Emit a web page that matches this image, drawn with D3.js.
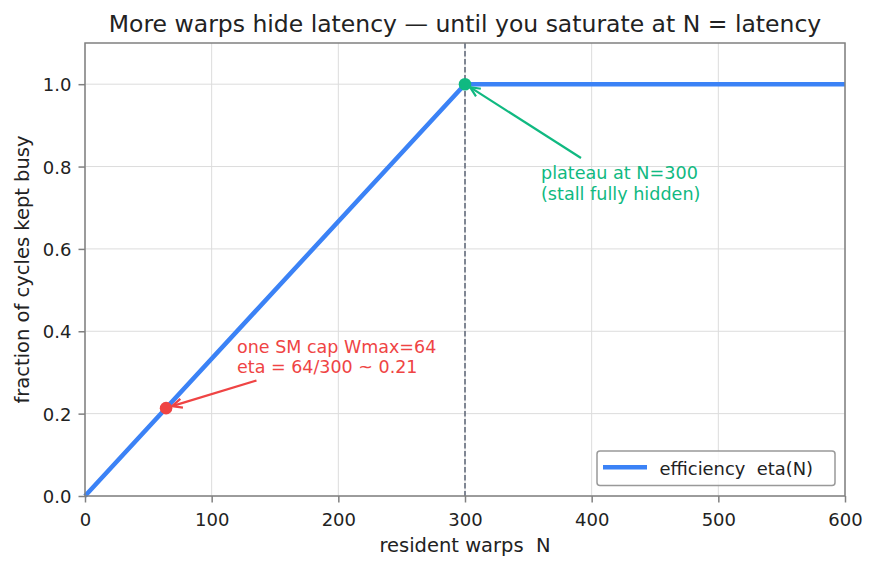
<!DOCTYPE html>
<html><head><meta charset="utf-8">
<script src="https://cdn.jsdelivr.net/npm/d3@7/dist/d3.min.js"></script>
<style>body{margin:0;background:#fff}svg{display:block}text{white-space:pre}</style>
</head><body><svg id="c" width="877" height="569"></svg>
<script>
const warpsN = [0, 300, 600];
const eta = [0, 1, 1];
const xTicks = [0, 100, 200, 300, 400, 500, 600];
const yTicks = [0.0, 0.2, 0.4, 0.6, 0.8, 1.0];
const capPoint = {n: 64, eta: 64/300};
const satPoint = {n: 300, eta: 1.0};
const title = "More warps hide latency — until you saturate at N = latency";
const FF = "DejaVu Sans";

const svg = d3.select("#c");
const m = {l: 85, r: 845, t: 43, b: 496};
const x = d3.scaleLinear().domain([0, 600]).range([m.l, m.r]);
const y = d3.scaleLinear().domain([0, 1.1]).range([m.b, m.t]);

// grid
svg.append("g").selectAll("line").data(xTicks).join("line")
  .attr("x1", d => x(d)).attr("x2", d => x(d)).attr("y1", m.t).attr("y2", m.b)
  .attr("stroke", "#dcdcdc").attr("stroke-width", 1);
svg.append("g").selectAll("line").data(yTicks).join("line")
  .attr("y1", d => y(d)).attr("y2", d => y(d)).attr("x1", m.l).attr("x2", m.r)
  .attr("stroke", "#dcdcdc").attr("stroke-width", 1);

// dashed vertical
svg.append("line").attr("x1", x(300)).attr("x2", x(300)).attr("y1", m.t).attr("y2", m.b)
  .attr("stroke", "#5b6475").attr("stroke-width", 1.5).attr("stroke-dasharray", "5.5,2.5");

// line
svg.append("path").datum(warpsN.map((n, i) => [n, eta[i]]))
  .attr("d", d3.line().x(d => x(d[0])).y(d => y(d[1])))
  .attr("fill", "none").attr("stroke", "#3b82f6").attr("stroke-width", 4.5);

// points
svg.append("circle").attr("cx", x(capPoint.n)).attr("cy", y(capPoint.eta)).attr("r", 6.3).attr("fill", "#ef4444");
svg.append("circle").attr("cx", x(satPoint.n)).attr("cy", y(satPoint.eta)).attr("r", 6.3).attr("fill", "#10b981");

// arrows
const defs = svg.append("defs");
function marker(id, col) {
  defs.append("marker").attr("id", id).attr("viewBox", "0 0 12 12").attr("refX", 11).attr("refY", 6)
    .attr("markerWidth", 12).attr("markerHeight", 12).attr("markerUnits", "userSpaceOnUse").attr("orient", "auto")
    .append("path").attr("d", "M1,1.5 L11,6 L1,10.5").attr("fill", "none").attr("stroke", col).attr("stroke-width", 2.2);
}
marker("ar", "#ef4444"); marker("ag", "#10b981");
svg.append("line").attr("x1", 256.5).attr("y1", 380.5).attr("x2", x(capPoint.n) + 6).attr("y2", y(capPoint.eta) - 2)
  .attr("stroke", "#ef4444").attr("stroke-width", 2.2).attr("marker-end", "url(#ar)");
svg.append("line").attr("x1", 581).attr("y1", 158).attr("x2", x(satPoint.n) + 5).attr("y2", y(satPoint.eta) + 3)
  .attr("stroke", "#10b981").attr("stroke-width", 2.2).attr("marker-end", "url(#ag)");

// annotation text
const rt = svg.append("text").attr("fill", "#ef4444").attr("font-size", 17.5).attr("font-family", FF);
rt.append("tspan").attr("x", x(120)).attr("y", 352.5).text("one SM cap Wmax=64");
rt.append("tspan").attr("x", x(120)).attr("y", 373.3).text("eta = 64/300 ~ 0.21");
const gt = svg.append("text").attr("fill", "#10b981").attr("font-size", 17.6).attr("font-family", FF);
gt.append("tspan").attr("x", x(360)).attr("y", 179.3).text("plateau at N=300");
gt.append("tspan").attr("x", x(360)).attr("y", 199.8).text("(stall fully hidden)");

// frame
svg.append("rect").attr("x", m.l).attr("y", m.t).attr("width", m.r - m.l).attr("height", m.b - m.t)
  .attr("fill", "none").attr("stroke", "#808080").attr("stroke-width", 1.5);

// axes
const xa = svg.append("g").attr("transform", `translate(0,${m.b})`)
  .call(d3.axisBottom(x).tickValues(xTicks).tickFormat(d3.format("d")).tickSize(6.5).tickPadding(7));
const ya = svg.append("g").attr("transform", `translate(${m.l},0)`)
  .call(d3.axisLeft(y).tickValues(yTicks).tickFormat(d3.format(".1f")).tickSize(6.5).tickPadding(7));
[xa, ya].forEach(a => {
  a.select(".domain").remove();
  a.selectAll("line").attr("stroke", "#808080").attr("stroke-width", 1.5);
  a.selectAll("text").attr("font-size", 18).attr("fill", "#222").attr("font-family", FF);
});
xa.selectAll("text").attr("dy", null).attr("y", 30);
ya.selectAll("text").attr("dy", "0.36em");

// labels
svg.append("text").attr("x", (m.l + m.r) / 2).attr("y", 552).attr("text-anchor", "middle")
  .attr("font-size", 19.5).attr("fill", "#222").attr("font-family", FF).text("resident warps  N");
svg.append("text").attr("transform", `translate(29,${(m.t + m.b) / 2}) rotate(-90)`).attr("text-anchor", "middle")
  .attr("font-size", 19.5).attr("fill", "#222").attr("font-family", FF).text("fraction of cycles kept busy");
svg.append("text").attr("x", (m.l + m.r) / 2).attr("y", 31.5).attr("text-anchor", "middle")
  .attr("font-size", 23.5).attr("fill", "#222").attr("font-family", FF).text(title);

// legend
const lg = svg.append("g");
lg.append("rect").attr("x", 597).attr("y", 451).attr("width", 238).attr("height", 34.5).attr("rx", 3)
  .attr("fill", "#fff").attr("fill-opacity", 0.8).attr("stroke", "#999").attr("stroke-width", 1.5);
lg.append("line").attr("x1", 603).attr("x2", 647).attr("y1", 467.3).attr("y2", 467.3)
  .attr("stroke", "#3b82f6").attr("stroke-width", 4.5);
lg.append("text").attr("x", 659.5).attr("y", 474.5).attr("font-size", 17.9).attr("fill", "#222").attr("font-family", FF).text("efficiency  eta(N)");
</script></body></html>
